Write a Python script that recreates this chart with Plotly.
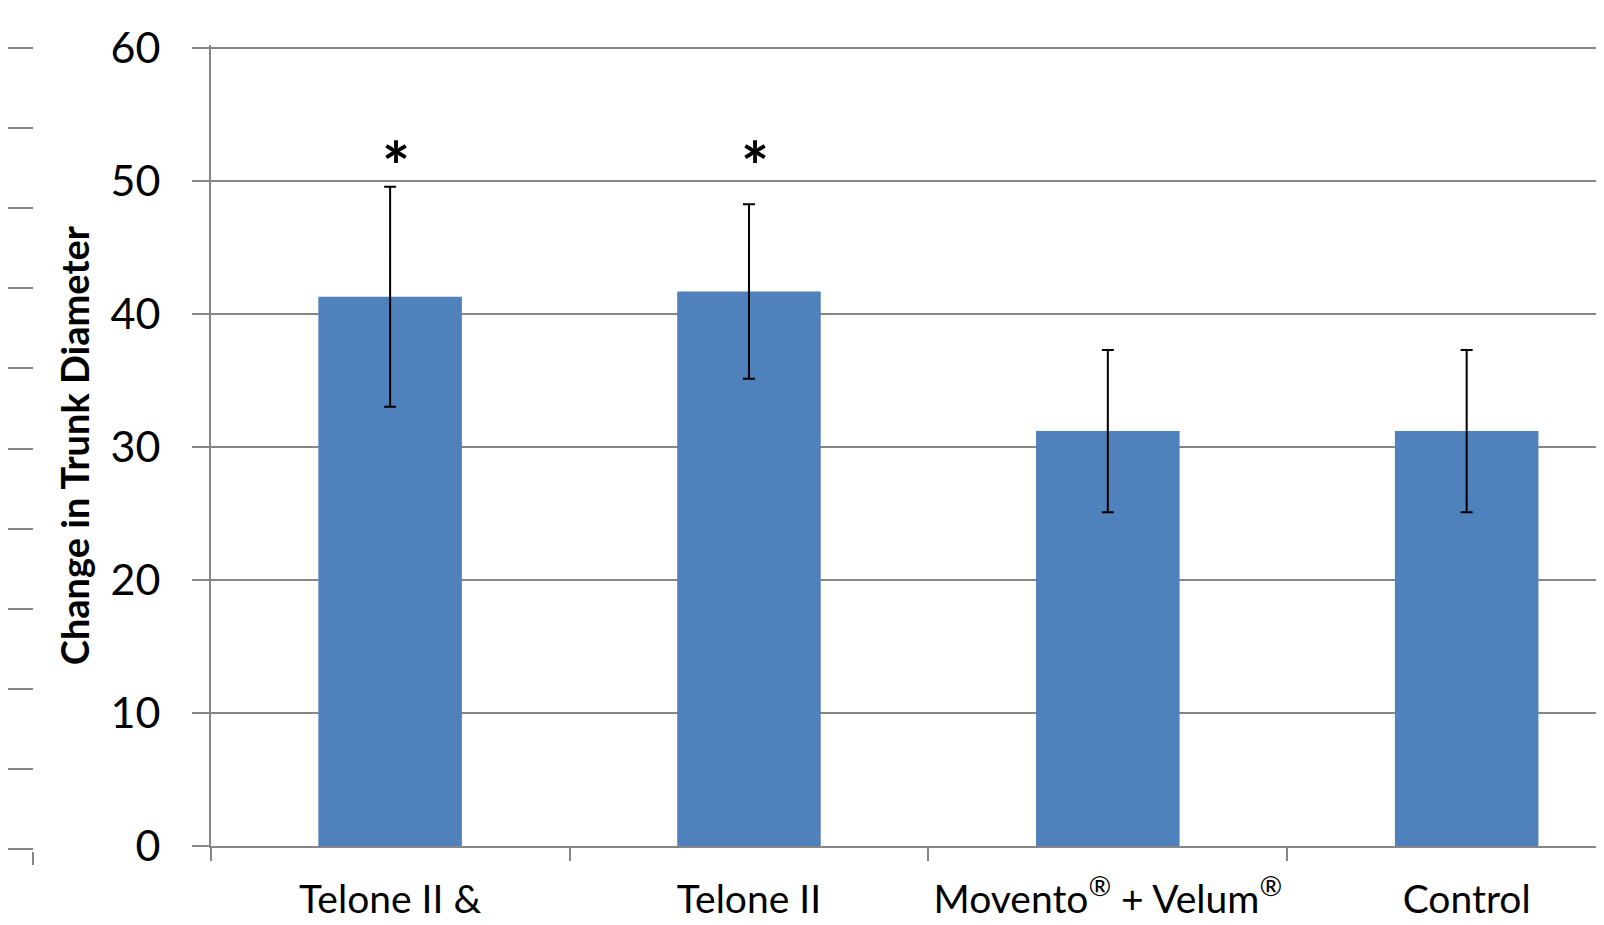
import plotly.graph_objects as go

categories = ["Telone II &", "Telone II", "Movento<sup>®</sup> + Velum<sup>®</sup>", "Control"]
values = [41.3, 41.7, 31.2, 31.2]
errors = [8.27, 6.56, 6.1, 6.1]
star_flags = ["*", "*", "", ""]
star_y = 51.2
left_ticks = list(range(0, 11))

W, H = 1604, 925
OFF = 8  # default page body margin
bar_color = "#4F81BD"
grid = "#868686"
font_family = "Lato, 'Open Sans', sans-serif"


def fx(p):
    return (p - OFF) / W


def fy(p):
    return 1 - (p - OFF) / H


fig = go.Figure()
fig.add_trace(go.Bar(
    x=categories, y=values, width=0.4, marker=dict(color=bar_color, line=dict(width=0)),
    error_y=dict(type="data", array=errors, color="black", thickness=2, width=6),
    showlegend=False, xaxis="x", yaxis="y",
))
fig.add_trace(go.Scatter(x=[0.5], y=[5], mode="markers", marker=dict(opacity=0),
                         showlegend=False, hoverinfo="skip", xaxis="x2", yaxis="y2"))

for c, s in zip(categories, star_flags):
    if s:
        fig.add_annotation(x=c, y=star_y, text="<b>*</b>", showarrow=False, xshift=6,
                           font=dict(size=66, color="black", family=font_family),
                           xref="x", yref="y", yanchor="middle")

fig.update_layout(
    width=W, height=H, margin=dict(l=0, r=0, t=0, b=0),
    paper_bgcolor="white", plot_bgcolor="white",
    xaxis=dict(domain=[fx(210.7), 1], range=[-0.5, 3.405], showline=True, linecolor=grid,
               linewidth=1.5, ticks="outside", tickson="boundaries", ticklen=13, tickcolor=grid,
               tickwidth=1.5, tickfont=dict(size=39, color="black", family=font_family),
               showgrid=False, ticklabelstandoff=18, automargin=False),
    yaxis=dict(domain=[fy(846), fy(45.34)], range=[0, 60.2], tickvals=[0, 10, 20, 30, 40, 50, 60],
               showgrid=True, gridcolor=grid,
               gridwidth=1.5, showline=True, linecolor=grid, linewidth=1.5, zeroline=False,
               ticks="outside", ticklen=17, tickcolor=grid, tickwidth=1.5,
               tickfont=dict(size=43, color="black", family=font_family), ticklabelstandoff=23,
               title=dict(text="<b>Change in Trunk Diameter</b>", standoff=9,
                          font=dict(size=38, color="black", family=font_family)),
               automargin=False),
    xaxis2=dict(domain=[0, fx(32.7)], range=[0, 1], anchor="y2", showline=False,
                tickvals=[1], showticklabels=False, ticks="outside", ticklen=13, tickcolor=grid,
                tickwidth=1.5, showgrid=False, zeroline=False),
    yaxis2=dict(domain=[fy(851.4), fy(45.7)], range=[-0.03, 10.03], tickvals=left_ticks,
                anchor="x2", showgrid=True, gridcolor=grid, gridwidth=1.5, showticklabels=False,
                zeroline=False, showline=False),
)

fig.write_html("out.html")
